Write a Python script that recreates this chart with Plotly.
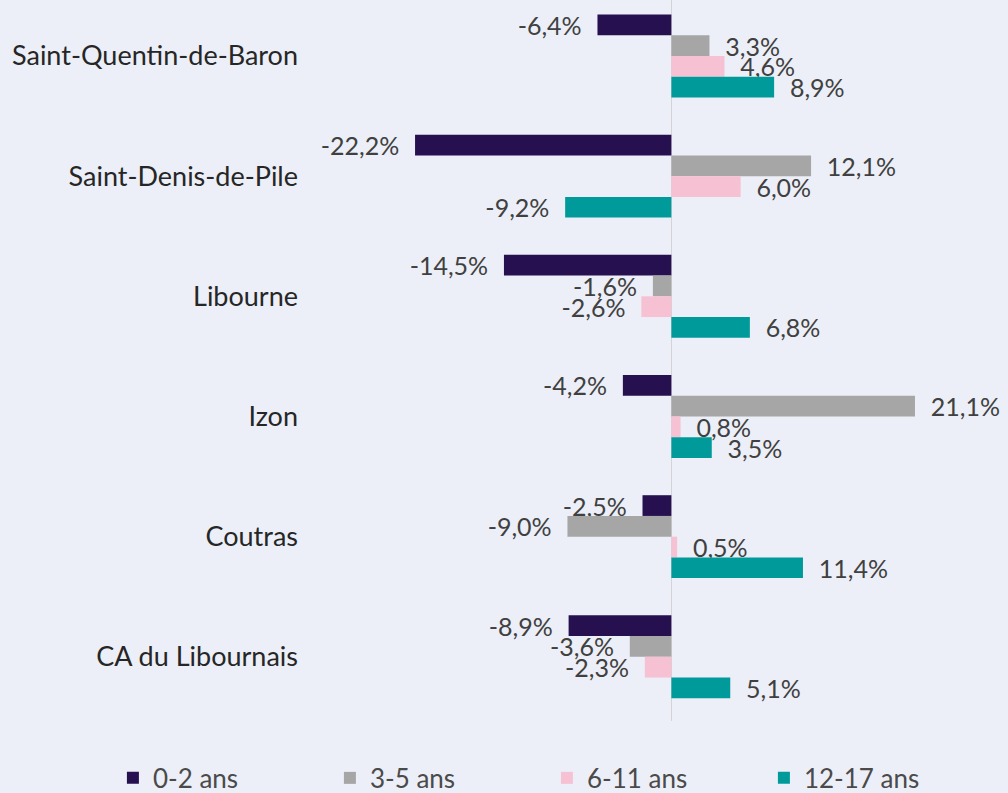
import plotly.graph_objects as go

categories = ["Saint-Quentin-de-Baron", "Saint-Denis-de-Pile", "Libourne", "Izon", "Coutras", "CA du Libournais"]
series_names = ["0-2 ans", "3-5 ans", "6-11 ans", "12-17 ans"]
v_0_2 = [-6.4, -22.2, -14.5, -4.2, -2.5, -8.9]
v_3_5 = [3.3, 12.1, -1.6, 21.1, -9.0, -3.6]
v_6_11 = [4.6, 6.0, -2.6, 0.8, 0.5, -2.3]
v_12_17 = [8.9, -9.2, 6.8, 3.5, 11.4, 5.1]
colors = ["#26104f", "#a6a6a6", "#f7c1d4", "#009a9a"]

BG = "#eceff7"
NB = "\u00a0"


def fmt(v):
    s = f"{v:.1f}".replace(".", ",") + "%"
    return (s + NB * 2) if v < 0 else (NB * 2 + s)


fig = go.Figure()
for name, vals, col in zip(series_names, [v_0_2, v_3_5, v_6_11, v_12_17], colors):
    fig.add_trace(go.Bar(
        y=categories, x=vals, name=name, orientation="h",
        marker=dict(color=col, line=dict(width=0)),
        text=[fmt(v) for v in vals], textposition="outside",
        constraintext="none", cliponaxis=False,
        textfont=dict(family="Lato", size=25, color="#404040"),
    ))

fig.update_layout(
    barmode="group", bargap=0.31, bargroupgap=0,
    width=1008, height=793,
    margin=dict(l=325, r=48, t=0, b=72, autoexpand=False),
    paper_bgcolor=BG, plot_bgcolor=BG,
    font=dict(family="Lato", size=26, color="#262626"),
    xaxis=dict(range=[-30, 25], showgrid=False, showticklabels=False,
               zeroline=True, zerolinecolor="#d4d4d4", zerolinewidth=1, fixedrange=True),
    yaxis=dict(range=[5.534, -0.466], type="category", showgrid=False,
               ticks="", ticklabelstandoff=26,
               tickfont=dict(family="Lato", size=27, color="#262626")),
    legend=dict(orientation="h", x=-0.334, xanchor="left", y=-0.079, yanchor="middle",
                entrywidth=172, entrywidthmode="pixels", itemwidth=30,
                font=dict(family="Lato", size=26, color="#4a4a4a"),
                bgcolor="rgba(0,0,0,0)", traceorder="normal"),
    showlegend=True,
)

fig.write_html(
    "out.html",
    config={"displayModeBar": False},
    post_script="document.body.style.margin='0';document.body.style.background='%s';" % BG,
)
